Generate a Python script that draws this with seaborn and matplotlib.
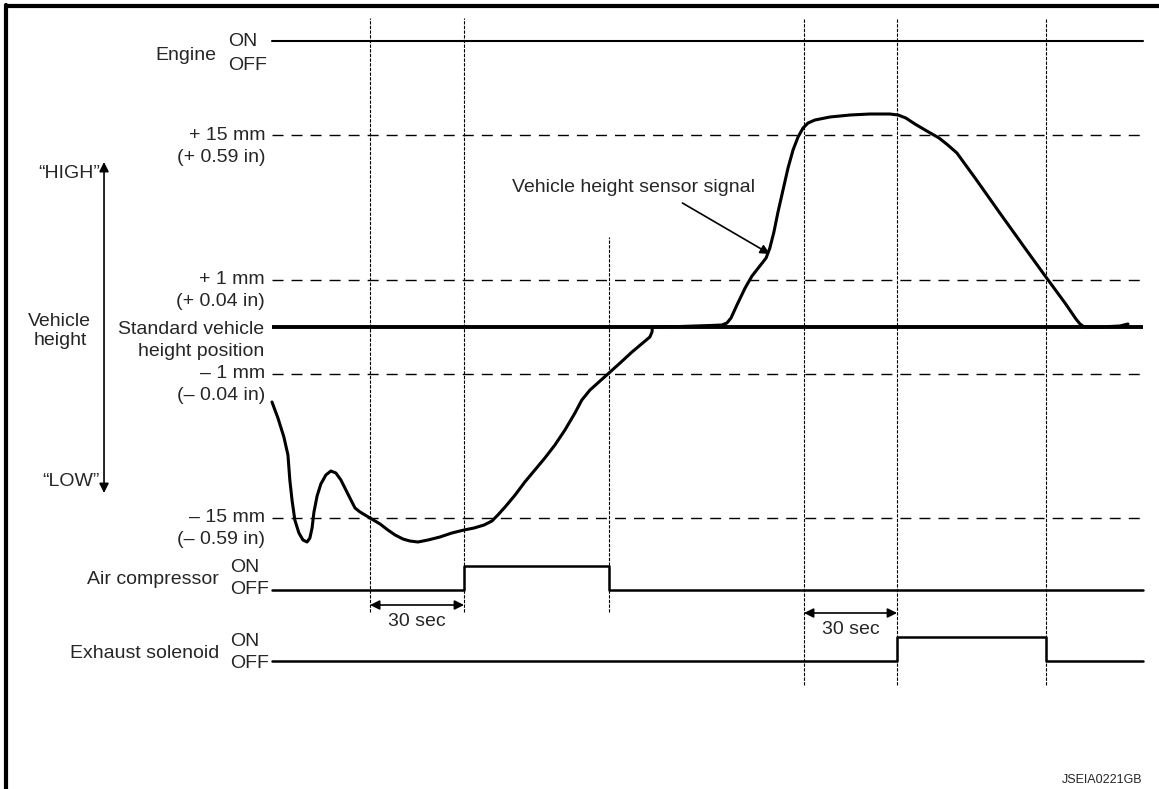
import numpy as np
import pandas as pd
import seaborn as sns
import matplotlib.pyplot as plt
from matplotlib.lines import Line2D

# time axis in seconds, vertical axis in schematic height units (0 = standard height)
signal_t = [0.0, 1.9, 3.8, 5.1, 5.7, 6.4, 7.3, 8.6, 9.9, 11.2, 12.1, 12.8, 13.4, 14.4, 15.6, 17.2,
            18.8, 20.4, 22.0, 23.6, 25.2, 26.5, 28.1, 31.3, 34.5, 37.0, 39.3, 41.8, 44.0, 46.6,
            49.8, 53.6, 57.4, 61.3, 64.5, 67.7, 70.2, 72.1, 74.4, 77.6, 80.7, 83.9, 87.1, 90.3,
            93.5, 96.7, 98.9, 101.5, 104.7, 107.2, 111.1, 114.9, 118.7, 120.6, 121.3, 121.4,
            130.2, 139.8, 143.6, 145.2, 146.5, 148.4, 151.0, 153.2, 155.7, 157.7, 158.9, 160.2,
            161.5, 163.1, 164.7, 166.3, 167.9, 169.5, 171.1, 173.3, 178.1, 184.5, 190.9, 197.2,
            199.8, 202.3, 205.2, 209.0, 212.9, 215.7, 218.6, 224.4, 232.3, 240.3, 247.0, 253.1,
            256.6, 257.9, 259.2, 264.3, 270.6, 273.2]
signal_h = [-75, -91, -110, -128, -153, -173, -193, -206, -213, -215, -211, -201, -185, -169, -157, -148,
            -144, -146, -153, -163, -173, -181, -185, -191, -197, -203, -208, -212, -214, -215,
            -213, -210, -206, -203, -201, -198, -194, -188, -180, -168, -155, -143, -131, -118,
            -103, -86, -73, -63, -54, -47, -36, -25, -15, -10, -5, 0,
            0.5, 1.5, 2, 4, 9, 22, 39, 51, 61, 69, 79, 95,
            115, 137, 159, 177, 190, 199, 204, 207, 210, 212, 213, 213,
            212, 209, 203, 196, 189, 182, 174, 149, 114, 79, 50, 24,
            8, 3, 0, 0, 1, 3]

ref_levels = [192, 47, -47, -191]
ref_labels = [("+ 15 mm", "(+ 0.59 in)"), ("+ 1 mm", "(+ 0.04 in)"),
              ("\u2013 1 mm", "(\u2013 0.04 in)"), ("\u2013 15 mm", "(\u2013 0.59 in)")]

t_end = 278.0
marker_t = [31.3, 61.3, 107.6, 169.8, 199.5, 247.0]
marker_top = [309, 309, 90, 309, 309, 309]
marker_bottom = [-285, -285, -285, -358, -358, -358]

engine_t = [0, t_end]
engine_state = [1, 1]
comp_t = [0, 61.3, 107.6, t_end]
comp_state = [0, 1, 0, 0]
exhaust_t = [0, 199.5, 247.0, t_end]
exhaust_state = [0, 1, 0, 0]

# name, (on level, off level), name height, ON label height, OFF label height
rows = [("Engine", (286, 262), 272, 285, 262),
        ("Air compressor", (-239, -263), -253, -241, -263),
        ("Exhaust solenoid", (-310, -334), -326, -315, -336)]

sns.set_theme(style="white")
plt.rcParams['font.family'] = ['Liberation Sans', 'DejaVu Sans']
FS = 14

fig = plt.figure(figsize=(11.59, 7.89), dpi=100)
ax = fig.add_axes([0, 0, 1, 1])
ax.set_xlim(-86.8, 283.1)
ax.set_ylim(-462, 327)
ax.axis('off')

# border (top and left only)
fig.add_artist(Line2D([0.005, 1], [1 - 6 / 789, 1 - 6 / 789], color='black', lw=3, transform=fig.transFigure))
fig.add_artist(Line2D([6 / 1159, 6 / 1159], [0, 1 - 5 / 789], color='black', lw=3, transform=fig.transFigure))

# vertical dotted time markers
for t, top, bot in zip(marker_t, marker_top, marker_bottom):
    ax.plot([t, t], [bot, top], color='black', lw=0.8, dashes=(3, 1.2))

# dashed reference lines
for lev in ref_levels:
    ax.plot([0, t_end], [lev, lev], color='black', lw=1.0, dashes=(7.9, 5.8))
ax.plot([0, t_end], [0, 0], color='black', lw=2.8, solid_capstyle='butt')

# height sensor signal
sig = pd.DataFrame({'t': signal_t, 'h': signal_h})
sns.lineplot(data=sig, x='t', y='h', ax=ax, sort=False, estimator=None, color='black', lw=2.2,
             solid_joinstyle='round', solid_capstyle='round')


# switch rows
def step_row(ts, states, row, lw):
    lv = [row[0] if s else row[1] for s in states]
    df = pd.DataFrame({'t': ts, 'v': lv})
    sns.lineplot(data=df, x='t', y='v', ax=ax, sort=False, estimator=None, color='black', lw=lw,
                 drawstyle='steps-post')


step_row(engine_t, engine_state, rows[0][1], 1.5)
step_row(comp_t, comp_state, rows[1][1], 1.8)
step_row(exhaust_t, exhaust_state, rows[2][1], 1.8)

# row labels
for (name, row, name_h, on_h, off_h), x_name in zip(rows, [-17.6, -16.9, -16.9]):
    ax.text(x_name, name_h, name, ha='right', va='center', fontsize=FS)
    ax.text(x_name + 3.5, on_h, "ON", ha='left', va='center', fontsize=FS)
    ax.text(x_name + 3.5, off_h, "OFF", ha='left', va='center', fontsize=FS)

# height labels
for lev, (a, b) in zip(ref_levels, ref_labels):
    ax.text(-2.2, lev, a, ha='right', va='center', fontsize=FS)
    ax.text(-2.2, lev - 22, b, ha='right', va='center', fontsize=FS)
ax.text(-2.6, -2, "Standard vehicle", ha='right', va='center', fontsize=FS)
ax.text(-2.6, -25, "height position", ha='right', va='center', fontsize=FS)

ax.text(-67.7, -4, "Vehicle\nheight", ha='center', va='center', fontsize=FS, linespacing=1.15)
ax.annotate("", xy=(-53.6, 165), xytext=(-53.6, -166),
            arrowprops=dict(arrowstyle='<|-|>', color='black', lw=1.2, mutation_scale=14,
                            shrinkA=0, shrinkB=0))
ax.text(-54.9, 154, "\u201cHIGH\u201d", ha='right', va='center', fontsize=FS)
ax.text(-54.9, -155, "\u201cLOW\u201d", ha='right', va='center', fontsize=FS)

# signal annotation
ax.text(154.1, 139, "Vehicle height sensor signal", ha='right', va='center', fontsize=FS)
ax.annotate("", xy=(158.9, 73), xytext=(131.0, 124),
            arrowprops=dict(arrowstyle='-|>', color='black', lw=1.2, mutation_scale=14,
                            shrinkA=0, shrinkB=0))

# 30 sec dimension arrows
for t0, t1, yh, ty in [(31.3, 61.3, -278, -295), (169.8, 199.5, -286, -303)]:
    ax.annotate("", xy=(t1, yh), xytext=(t0, yh),
                arrowprops=dict(arrowstyle='<|-|>', color='black', lw=1.2, mutation_scale=14,
                                shrinkA=0, shrinkB=0))
    ax.text((t0 + t1) / 2, ty, "30 sec", ha='center', va='center', fontsize=FS)

ax.text(277.7, -453, "JSEIA0221GB", ha='right', va='center', fontsize=9)

fig.savefig("out.png", dpi=100)
